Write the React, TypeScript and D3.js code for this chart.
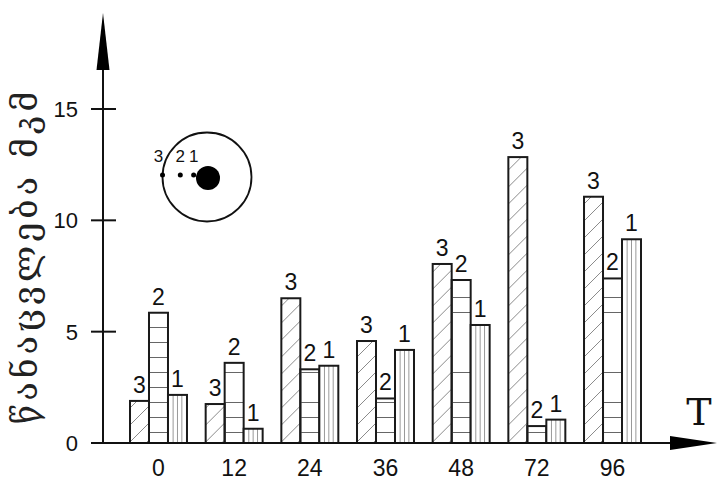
import { useEffect, useRef } from "react";
import * as d3 from "d3";

// time points (hours) on the x axis
const times = ["0", "12", "24", "36", "48", "72", "96"];
// series drawn left to right inside each group
const seriesKeys = ["3", "2", "1"];
const series3 = [1.89, 1.75, 6.5, 4.58, 8.04, 12.84, 11.06];
const series2 = [5.85, 3.6, 3.31, 2.0, 7.32, 0.76, 7.39];
const series1 = [2.16, 0.64, 3.47, 4.18, 5.3, 1.05, 9.15];
const yTicks = [0, 5, 10, 15];
const yLabel = "წანაცვლება მკმ";
const xLabel = "T";
// inset: point positions as fraction of circle radius (1 = on the circle)
const insetPoints = [
  { key: "3", r: 1.0 },
  { key: "2", r: 0.6 },
  { key: "1", r: 0.3 },
];

const W = 717;
const H = 482;

const App = () => {
  const svgRef = useRef<SVGSVGElement | null>(null);

  useEffect(() => {
    const svg = d3.select(svgRef.current).attr("width", W).attr("height", H);
    svg.selectAll("*").remove();

    const x = d3.scaleBand().domain(times).range([130, 641]).paddingInner(0.247).paddingOuter(0);
    const sub = d3.scaleBand().domain(seriesKeys).range([0, x.bandwidth()]);
    const y = d3.scaleLinear().domain([0, 15]).range([443, 109]);

    const defs = svg.append("defs");
    defs
      .append("pattern")
      .attr("id", "diag")
      .attr("patternUnits", "userSpaceOnUse")
      .attr("width", 17)
      .attr("height", 17)
      .append("path")
      .attr("d", "M-2,19 L19,-2")
      .attr("stroke", "#8a8a8a")
      .attr("stroke-width", 1);
    defs
      .append("pattern")
      .attr("id", "horiz")
      .attr("patternUnits", "userSpaceOnUse")
      .attr("y", 443 - 11)
      .attr("width", 20)
      .attr("height", 15)
      .append("line")
      .attr("x1", 0)
      .attr("x2", 20)
      .attr("y1", 0.5)
      .attr("y2", 0.5)
      .attr("stroke", "#666")
      .attr("stroke-width", 1);

    const rows = times.map((t, i) => ({
      t,
      bars: [
        { key: "3", value: series3[i] },
        { key: "2", value: series2[i] },
        { key: "1", value: series1[i] },
      ],
    }));

    const fills: Record<string, string> = { "3": "url(#diag)", "2": "url(#horiz)", "1": "#fff" };

    const groups = svg
      .selectAll(".grp")
      .data(rows)
      .enter()
      .append("g")
      .attr("transform", (d) => `translate(${x(d.t)},0)`);

    const bars = groups
      .selectAll(".bar")
      .data((d) => d.bars)
      .enter()
      .append("g");

    bars
      .append("rect")
      .attr("x", (d) => sub(d.key)!)
      .attr("y", (d) => y(d.value))
      .attr("width", sub.bandwidth())
      .attr("height", (d) => y(0) - y(d.value))
      .attr("fill", (d) => fills[d.key]);

    // vertical stripes for series 1
    bars
      .filter((d) => d.key === "1")
      .selectAll("line")
      .data((d) => [0.27, 0.5, 0.73].map((f) => ({ f, value: d.value, key: d.key })))
      .enter()
      .append("line")
      .attr("x1", (d) => sub(d.key)! + sub.bandwidth() * d.f)
      .attr("x2", (d) => sub(d.key)! + sub.bandwidth() * d.f)
      .attr("y1", (d) => y(d.value))
      .attr("y2", y(0))
      .attr("stroke", "#999")
      .attr("stroke-width", 1);

    bars
      .append("rect")
      .attr("x", (d) => sub(d.key)!)
      .attr("y", (d) => y(d.value))
      .attr("width", sub.bandwidth())
      .attr("height", (d) => y(0) - y(d.value))
      .attr("fill", "none")
      .attr("stroke", "#1a1a1a")
      .attr("stroke-width", 2);

    bars
      .append("text")
      .text((d) => d.key)
      .attr("x", (d) => sub(d.key)! + sub.bandwidth() / 2)
      .attr("y", (d) => y(d.value) - 8)
      .attr("text-anchor", "middle")
      .attr("font-family", "Liberation Sans, Arial, sans-serif")
      .attr("font-size", 23)
      .attr("fill", "#111");

    // category labels
    svg
      .selectAll(".xl")
      .data(times)
      .enter()
      .append("text")
      .text((d) => d)
      .attr("x", (d) => x(d)! + x.bandwidth() / 2)
      .attr("y", 476)
      .attr("text-anchor", "middle")
      .attr("font-family", "Liberation Sans, Arial, sans-serif")
      .attr("font-size", 23)
      .attr("fill", "#111");

    // axes
    const axisX = 103;
    svg
      .append("line")
      .attr("x1", 91)
      .attr("x2", 680)
      .attr("y1", y(0))
      .attr("y2", y(0))
      .attr("stroke", "#111")
      .attr("stroke-width", 2);
    svg
      .append("path")
      .attr("d", `M670,${y(0) - 7} L717,${y(0)} L670,${y(0) + 7} Z`)
      .attr("fill", "#000");
    svg
      .append("line")
      .attr("x1", axisX)
      .attr("x2", axisX)
      .attr("y1", y(0))
      .attr("y2", 60)
      .attr("stroke", "#111")
      .attr("stroke-width", 2);
    svg
      .append("path")
      .attr("d", `M${axisX - 6.5},70 L${axisX},13 L${axisX + 6.5},70 Z`)
      .attr("fill", "#000");

    svg
      .selectAll(".yt")
      .data(yTicks.filter((d) => d > 0))
      .enter()
      .append("line")
      .attr("x1", 91)
      .attr("x2", 116)
      .attr("y1", (d) => y(d))
      .attr("y2", (d) => y(d))
      .attr("stroke", "#111")
      .attr("stroke-width", 2);
    svg
      .selectAll(".ytl")
      .data(yTicks)
      .enter()
      .append("text")
      .text((d) => d)
      .attr("x", 78)
      .attr("y", (d) => y(d))
      .attr("dy", "0.36em")
      .attr("text-anchor", "end")
      .attr("font-family", "Liberation Sans, Arial, sans-serif")
      .attr("font-size", 22)
      .attr("fill", "#111");

    svg
      .append("text")
      .text(xLabel)
      .attr("x", 699)
      .attr("y", 425)
      .attr("text-anchor", "middle")
      .attr("font-family", "DejaVu Serif, Liberation Serif, serif")
      .attr("font-size", 38)
      .attr("fill", "#111");

    svg
      .append("text")
      .text(yLabel)
      .attr("transform", "translate(37,256) rotate(-90)")
      .attr("text-anchor", "middle")
      .attr("font-family", "DejaVu Serif, DejaVu Sans, serif")
      .attr("font-size", 34)
      .attr("letter-spacing", 4)
      .attr("fill", "#222");

    // inset
    const cx = 207;
    const cy = 177;
    const R = 44.5;
    const inset = svg.append("g");
    inset
      .append("circle")
      .attr("cx", cx)
      .attr("cy", cy)
      .attr("r", R)
      .attr("fill", "none")
      .attr("stroke", "#111")
      .attr("stroke-width", 1.8);
    inset.append("circle").attr("cx", cx + 1).attr("cy", cy + 1).attr("r", 12).attr("fill", "#000");
    inset
      .selectAll(".ip")
      .data(insetPoints)
      .enter()
      .append("circle")
      .attr("cx", (d) => cx - R * d.r)
      .attr("cy", cy - 2)
      .attr("r", 2.5)
      .attr("fill", "#000");
    inset
      .selectAll(".ipl")
      .data(insetPoints)
      .enter()
      .append("text")
      .text((d) => d.key)
      .attr("x", (d) => cx - R * d.r - (d.r === 1 ? 4 : 0))
      .attr("y", cy - 15)
      .attr("text-anchor", "middle")
      .attr("font-family", "Liberation Sans, Arial, sans-serif")
      .attr("font-size", 17)
      .attr("fill", "#111");
  }, []);

  return <svg ref={svgRef} style={{ position: "absolute", left: 0, top: 0 }} />;
};

export default App;
